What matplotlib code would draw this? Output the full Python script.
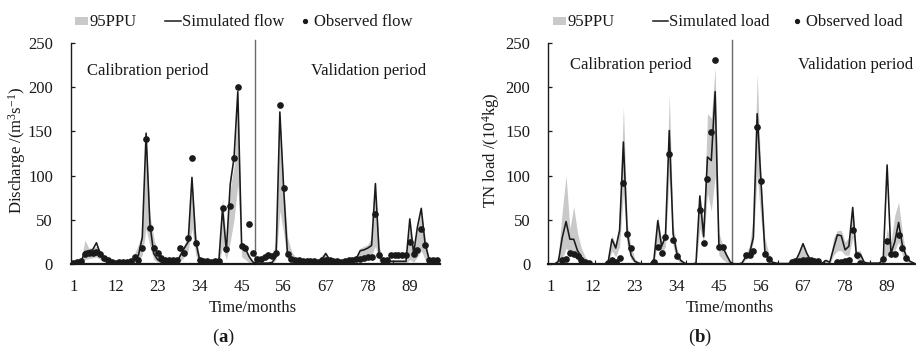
import numpy as np
import matplotlib
matplotlib.use("Agg")
import matplotlib.pyplot as plt
from matplotlib.patches import Rectangle
from matplotlib.lines import Line2D

plt.rcParams['font.family'] = ['Liberation Serif', 'DejaVu Serif']
plt.rcParams['mathtext.fontset'] = 'custom'
plt.rcParams['mathtext.rm'] = 'Liberation Serif'
plt.rcParams['mathtext.it'] = 'Liberation Serif:italic'
plt.rcParams['mathtext.bf'] = 'Liberation Serif:bold'

nan = np.nan
months = np.arange(1, 97)
xtick_labels = [1, 12, 23, 34, 45, 56, 67, 78, 89]
year_bounds = [12.5, 24.5, 36.5, 48.5, 60.5, 72.5, 84.5]
split_month = 48.5

# ---------------- Panel (a): discharge ----------------
obs_flow = [1.5, 2, 3, 11, 12, 13, 14, 11, 7, 4,
            2, 1.5, 2, 2, 2, 3, 8, 4, 18, 141,
            41, 18, 12, 7, 4, 4, 4, 4, 18, 13,
            29, 120, 24, 4, 3, 3, 2, 3, 3, 63,
            17, 66, 120, 200, 20, 18, 45, 12, 6, 6,
            8, 10, 9, 12, 180, 86, 11, 6, 5, 5,
            3, 3, 3, 3, 2, 4, 4, 4, 3, 3,
            2, 3, 5, 5, 6, 6, 7, 8, 8, 57,
            10, 4, 4, 10, 10, 10, 10, 10, 25, 11,
            16, 40, 22, 5, 4, 4]
sim_flow = [2, 2, 3, 14, 15, 16, 24, 12, 6, 3,
            2, 1, 1, 1, 2, 3, 5, 10, 30, 148,
            45, 12, 5, 2, 1, 1, 1, 2, 10, 18,
            25, 98, 25, 5, 2, 1, 1, 1, 1, 63,
            15, 90, 120, 195, 20, 17, 8, 2, 1, 1,
            1, 1, 2, 8, 172, 85, 10, 5, 3, 3,
            3, 2, 2, 2, 3, 5, 12, 5, 3, 3,
            3, 3, 4, 5, 6, 15, 16, 18, 21, 91,
            10, 3, 2, 3, 3, 3, 3, 3, 51, 12,
            42, 63, 23, 6, 4, 3]
ppu_flow_low = [0, 0, 1, 5, 6, 7, 8, 5, 2, 1,
                0, 0, 0, 0, 0, 1, 2, 4, 10, 40,
                20, 5, 2, 0, 0, 0, 0, 0, 3, 8,
                15, 40, 10, 1, 0, 0, 0, 0, 0, 20,
                5, 25, 50, 90, 8, 5, 1, 0, 0, 0,
                0, 0, 0, 5, 60, 35, 5, 2, 1, 0,
                0, 0, 0, 0, 0, 2, 3, 1, 0, 0,
                0, 0, 0, 0, 2, 5, 5, 6, 10, 20,
                3, 1, 0, 0, 0, 0, 0, 0, 5, 2,
                8, 15, 5, 1, 0, 0]
ppu_flow_high = [3, 3, 5, 27, 18, 18, 20, 15, 10, 5,
                 3, 2, 2, 2, 3, 5, 12, 22, 35, 145,
                 55, 30, 12, 5, 3, 3, 3, 4, 15, 22,
                 35, 95, 35, 8, 3, 3, 3, 3, 3, 75,
                 25, 85, 110, 190, 25, 20, 10, 3, 2, 2,
                 2, 2, 3, 30, 170, 90, 30, 15, 8, 4,
                 4, 4, 4, 4, 5, 10, 12, 6, 5, 5,
                 5, 5, 5, 6, 10, 18, 20, 22, 30, 85,
                 20, 6, 5, 5, 5, 5, 5, 5, 45, 15,
                 40, 60, 30, 8, 4, 4]

# ---------------- Panel (b): TN load ----------------
obs_load = [nan, nan, nan, 5, 6, 12, 11, 9, 4.5, 2,
            1, nan, nan, nan, nan, 1, 4.5, 2.3, 7, 92,
            34, 18, nan, nan, nan, nan, nan, 2.5, 19, 13,
            31, 125, 27, 9, nan, nan, nan, nan, nan, 61,
            24, 96, 149, 231, 19, 19, nan, nan, nan, nan,
            nan, 10, 10, 15, 155, 94, 11, 6, nan, nan,
            nan, nan, nan, 2, 3, 3, 4, 4, 4, 3,
            3, nan, nan, nan, nan, 2, 2, 3, 4, 38,
            10, 1.5, nan, nan, nan, nan, nan, 5.6, 26, 11.5,
            11.5, 33, 18, 7, nan, nan]
sim_load = [0, 0, 3, 30, 48, 28, 28, 15, 8, 3,
            1, 0, 0, 0, 0, 2, 28, 18, 38, 138,
            35, 10, 3, 1, 0, 0, 0, 5, 49, 20,
            31, 151, 34, 12, 4, 1, 0, 0, 1, 77,
            31, 121, 117, 195, 19, 19, 10, 2, 0, 0,
            1, 8, 12, 30, 170, 94, 15, 5, 2, 1,
            0.5, 0.5, 0.5, 1, 3, 12, 23, 12, 4, 2,
            1, 1, 4, 2, 18, 33, 32, 16, 20, 64,
            7, 11, 2, 1, 1, 1, 1, 6, 112, 12,
            25, 47, 21, 9, 3, 1]
ppu_load_low = [0, 0, 0, 5, 18, 12, 10, 5, 2, 0,
                0, 0, 0, 0, 0, 0, 15, 8, 20, 80,
                20, 5, 1, 0, 0, 0, 0, 2, 25, 10,
                20, 100, 20, 5, 1, 0, 0, 0, 0, 40,
                25, 80, 60, 100, 10, 5, 2, 0, 0, 0,
                0, 5, 8, 25, 100, 50, 10, 3, 1, 0,
                0, 0, 0, 0, 3, 3, 3, 3, 3, 1,
                0, 0, 0, 0, 10, 15, 15, 10, 10, 30,
                5, 5, 0, 0, 0, 0, 0, 3, 10, 8,
                15, 25, 10, 3, 1, 0]
ppu_load_high = [0, 0, 10, 60, 100, 40, 65, 35, 18, 8,
                 3, 1, 0, 0, 0, 3, 32, 22, 45, 178,
                 45, 20, 6, 2, 0, 0, 0, 8, 55, 25,
                 40, 192, 45, 18, 6, 2, 0, 0, 2, 80,
                 45, 170, 165, 222, 35, 22, 12, 3, 0, 0,
                 2, 12, 20, 55, 215, 100, 30, 12, 4, 1,
                 1, 1, 1, 2, 5, 12, 23, 12, 5, 2,
                 1, 1, 4, 3, 30, 38, 38, 25, 30, 60,
                 15, 15, 3, 1, 1, 1, 1, 10, 40, 25,
                 55, 70, 35, 10, 3, 1]

W, H = 916, 349
BAND = '#c9c9c9'
INK = '#1a1a1a'


def fx(px):
    return px / W


def fy(py):
    return 1 - py / H


fig = plt.figure(figsize=(W / 100, H / 100), dpi=100)


def make_panel(left_px, obs, sim, lo, hi, ylabel, ylab_x, texts_y, cal_x, val_x,
               leg_x, leg_names, letter, letter_x, time_x):
    ax = fig.add_axes([fx(left_px), fy(264), 369 / W, (264 - 43) / H])
    ax.fill_between(months, lo, hi, color=BAND, lw=0, zorder=1)
    ax.plot(months, sim, color=INK, lw=1.15, zorder=3)
    ax.plot(months, obs, ls='none', marker='o', ms=3.8, color=INK, zorder=4)
    ax.axvline(split_month, ymin=0, ymax=1.012, color='#6a6a6a', lw=1.0,
               zorder=2, clip_on=False)
    ax.set_xlim(0.35, 96.9)
    ax.set_ylim(0, 250)
    ax.set_xticks(xtick_labels)
    ax.set_xticklabels([str(v) for v in xtick_labels])
    ax.set_xticks(year_bounds, minor=True)
    ax.set_yticks(np.arange(0, 251, 50))
    ax.tick_params(axis='x', which='major', length=0, pad=11, labelsize=12,
                   colors=INK)
    ax.tick_params(axis='x', which='minor', direction='in', length=3,
                   width=0.8, color=INK)
    ax.tick_params(axis='y', direction='in', length=3, width=0.9, pad=13,
                   labelsize=12, colors=INK)
    for s in ('top', 'right'):
        ax.spines[s].set_visible(False)
    ax.spines['left'].set_linewidth(1.0)
    ax.spines['left'].set_color(INK)
    ax.spines['bottom'].set_linewidth(1.6)
    ax.spines['bottom'].set_color(INK)

    fig.text(fx(ylab_x), fy(150), ylabel, rotation=90, ha='center',
             va='center', fontsize=12, color=INK)
    fig.text(fx(cal_x), fy(texts_y), 'Calibration period', ha='left',
             va='baseline', fontsize=12, color=INK)
    fig.text(fx(val_x), fy(texts_y), 'Validation period', ha='left',
             va='baseline', fontsize=12, color=INK)
    fig.text(fx(time_x), fy(312), 'Time/months', ha='center', va='baseline',
             fontsize=12, color=INK)
    fig.text(fx(letter_x), fy(342), '(' + r'$\mathbf{' + letter + '}$' + ')',
             ha='center', va='baseline', fontsize=13.5, color=INK)

    # legend (manual)
    rx, lx0, lx1, dx = leg_x
    fig.add_artist(Rectangle((fx(rx), fy(25)), 13 / W, 8 / H,
                             transform=fig.transFigure, color=BAND, lw=0))
    fig.text(fx(rx + 14), fy(26), '95PPU', ha='left', va='baseline',
             fontsize=12, color=INK)
    fig.add_artist(Line2D([fx(lx0), fx(lx1)], [fy(21), fy(21)],
                          transform=fig.transFigure, color=INK, lw=1.1))
    fig.text(fx(lx1 + 1), fy(26), leg_names[0], ha='left', va='baseline',
             fontsize=12, color=INK)
    fig.add_artist(Line2D([fx(dx)], [fy(21)], transform=fig.transFigure,
                          marker='o', ms=2.8, color=INK, ls='none'))
    fig.text(fx(dx + 9), fy(26), leg_names[1], ha='left', va='baseline',
             fontsize=12, color=INK)
    return ax


make_panel(71, obs_flow, sim_flow, ppu_flow_low, ppu_flow_high,
           r'Discharge /(m$^{3}$s$^{-1}$)', 17, 75, 87, 311,
           (75, 165, 181, 305), ('Simulated flow', 'Observed flow'),
           'a', 223, 253)
make_panel(548.3, obs_load, sim_load, ppu_load_low, ppu_load_high,
           r'TN load /(10$^{4}$kg)', 491, 69, 570, 798,
           (553, 653, 668, 797), ('Simulated load', 'Observed load'),
           'b', 700, 730)

fig.savefig('out.png', dpi=100)
